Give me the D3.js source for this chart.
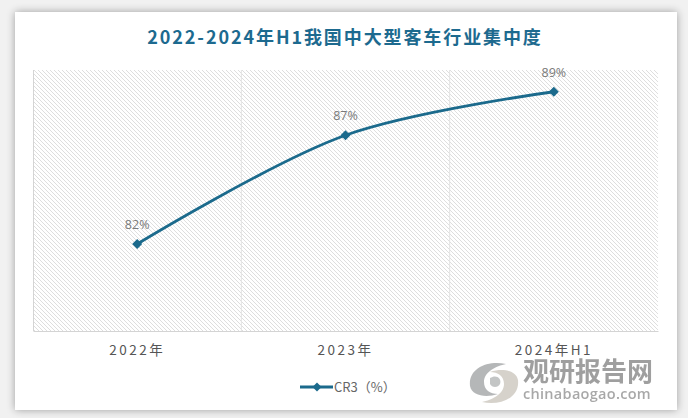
<!DOCTYPE html>
<html>
<head>
<meta charset="utf-8">
<script src="https://cdn.jsdelivr.net/npm/d3@7"></script>
<style>
  body { margin: 0; background: #f1f1f1; }
  svg { display: block; }
</style>
</head>
<body>
<svg id="chart"></svg>
<script>
// Chart data
const categories = ["2022年", "2023年", "2024年H1"];
const cr3 = [82, 87, 89];
const valueLabels = ["82%", "87%", "89%"];
const seriesName = "CR3（%）";
const titleText = "2022-2024年H1我国中大型客车行业集中度";

const svgWidth = 688;
const svgHeight = 418;
const plot = { left: 33, right: 658, top: 70, bottom: 331 };
const lineColor = "#1b6a8c";

const svg = d3.select("#chart")
    .attr("width", svgWidth)
    .attr("height", svgHeight);

// shadow + card
const defs = svg.append("defs");
const shadow = defs.append("filter").attr("id", "shadow")
    .attr("x", "-5%").attr("y", "-5%").attr("width", "110%").attr("height", "110%");
shadow.append("feGaussianBlur").attr("in", "SourceAlpha").attr("stdDeviation", 4);
shadow.append("feOffset").attr("dx", 0).attr("dy", 0).attr("result", "blur");
shadow.append("feComponentTransfer").append("feFuncA").attr("type", "linear").attr("slope", 0.35);
const merge = shadow.append("feMerge");
merge.append("feMergeNode");
merge.append("feMergeNode").attr("in", "SourceGraphic");

// hatch pattern for plot area
const hatch = defs.append("pattern")
    .attr("id", "hatch")
    .attr("patternUnits", "userSpaceOnUse")
    .attr("width", 4).attr("height", 4);
hatch.append("rect").attr("width", 4).attr("height", 4).attr("fill", "#ffffff");
hatch.append("path")
    .attr("d", "M-1,-1 L5,5 M-1,3 L1,5 M3,-1 L5,1")
    .attr("stroke", "#d6d6d6")
    .attr("stroke-width", 0.8);

svg.append("rect")
    .attr("x", 0).attr("y", 0).attr("width", svgWidth).attr("height", svgHeight)
    .attr("fill", "#f1f1f1");

svg.append("rect")
    .attr("x", 15).attr("y", 12)
    .attr("width", 662).attr("height", 398)
    .attr("fill", "#ffffff")
    .attr("filter", "url(#shadow)");

// Title
svg.append("text")
    .attr("x", 345)
    .attr("y", 44)
    .attr("text-anchor", "middle")
    .style("font-family", "'Noto Sans CJK SC', 'Noto Sans', sans-serif")
    .style("font-size", "18px")
    .style("font-weight", "bold")
    .style("letter-spacing", "1.9px")
    .style("fill", "#1d6a8f")
    .text(titleText);

// Scales
const x = d3.scaleBand()
    .domain(categories)
    .range([plot.left, plot.right])
    .padding(0);

const y = d3.scaleLinear()
    .domain([78, 90])
    .range([plot.bottom, plot.top]);

// Plot background
svg.append("rect")
    .attr("x", plot.left).attr("y", plot.top)
    .attr("width", plot.right - plot.left)
    .attr("height", plot.bottom - plot.top)
    .attr("fill", "url(#hatch)");

// vertical grid lines at category boundaries
svg.append("g")
    .selectAll("line")
    .data(categories.slice(1))
    .enter()
    .append("line")
    .attr("x1", d => x(d))
    .attr("x2", d => x(d))
    .attr("y1", plot.top)
    .attr("y2", plot.bottom)
    .attr("stroke", "#e3e3e3")
    .attr("stroke-width", 1);

// left and bottom axis lines
svg.append("line")
    .attr("x1", plot.left + 0.5).attr("x2", plot.left + 0.5)
    .attr("y1", plot.top).attr("y2", plot.bottom)
    .attr("stroke", "#d4d4d4");

const xAxis = svg.append("g")
    .attr("transform", `translate(0,${plot.bottom})`)
    .call(d3.axisBottom(x).tickSize(0).tickPadding(14));
xAxis.select(".domain").attr("stroke", "#d4d4d4");
xAxis.selectAll("text")
    .style("font-family", "'Noto Sans CJK SC', 'Noto Sans', sans-serif")
    .style("font-size", "13.5px")
    .style("letter-spacing", "2.5px")
    .style("fill", "#555555");

// Line
const points = categories.map((c, i) => ({ cat: c, value: cr3[i], label: valueLabels[i] }));

const line = d3.line()
    .x(d => x(d.cat) + x.bandwidth() / 2)
    .y(d => y(d.value))
    .curve(d3.curveCatmullRom.alpha(0.5));

svg.append("path")
    .datum(points)
    .attr("d", line)
    .attr("fill", "none")
    .attr("stroke", lineColor)
    .attr("stroke-width", 2.8);

svg.selectAll(".marker")
    .data(points)
    .enter()
    .append("path")
    .attr("class", "marker")
    .attr("d", d3.symbol().type(d3.symbolSquare).size(50))
    .attr("transform", d => `translate(${x(d.cat) + x.bandwidth() / 2},${y(d.value)}) rotate(45)`)
    .attr("fill", lineColor);

svg.selectAll(".valueLabel")
    .data(points)
    .enter()
    .append("text")
    .attr("class", "valueLabel")
    .attr("x", d => x(d.cat) + x.bandwidth() / 2)
    .attr("y", d => y(d.value) - 15)
    .attr("text-anchor", "middle")
    .style("font-family", "'Open Sans', 'Noto Sans', sans-serif")
    .style("font-size", "12.5px")
    .style("fill", "#7a7a7a")
    .text(d => d.label);

// Legend
const legend = svg.append("g").attr("transform", "translate(300,387)");
legend.append("line")
    .attr("x1", 0).attr("x2", 33)
    .attr("y1", 0).attr("y2", 0)
    .attr("stroke", lineColor)
    .attr("stroke-width", 2.8);
legend.append("path")
    .attr("d", d3.symbol().type(d3.symbolSquare).size(40))
    .attr("transform", "translate(17,0) rotate(45)")
    .attr("fill", lineColor);
legend.append("text")
    .attr("x", 34)
    .attr("y", 4.5)
    .style("font-family", "'Noto Sans CJK SC', 'Noto Sans', sans-serif")
    .style("font-size", "13px")
    .style("fill", "#666666")
    .text(seriesName);

// Watermark
const wm = svg.append("g").attr("opacity", 0.85);
const logo = wm.append("g").attr("transform", "translate(494,382)");
logo.append("path")
    .attr("d", "M-24,4 C-26,-14 -6,-22 12,-18 C2,-16 -10,-10 -10,0 C-10,8 -4,12 4,12 C-8,16 -22,14 -24,4 Z")
    .attr("fill", "#a9abac");
logo.append("path")
    .attr("d", "M24,-2 C26,16 6,24 -12,20 C-2,18 10,12 10,2 C10,-6 4,-10 -4,-10 C8,-14 22,-12 24,-2 Z")
    .attr("fill", "#cfcbc3");
logo.append("path")
    .attr("d", "M-4,-4 C2,-8 8,-4 6,2 C4,6 -2,6 -4,2 Z")
    .attr("fill", "#b9bbbc");
wm.append("text")
    .attr("x", 588).attr("y", 381)
    .attr("text-anchor", "middle")
    .style("font-family", "'Noto Sans CJK SC', sans-serif")
    .style("font-size", "26px")
    .style("font-weight", "bold")
    .style("fill", "#8f8f8f")
    .text("观研报告网");
wm.append("text")
    .attr("x", 587).attr("y", 399)
    .attr("text-anchor", "middle")
    .style("font-family", "'Open Sans', 'Noto Sans', sans-serif")
    .style("font-size", "14.5px")
    .style("font-weight", "600")
    .style("letter-spacing", "0.3px")
    .style("fill", "#999999")
    .text("chinabaogao.com");
</script>
</body>
</html>
